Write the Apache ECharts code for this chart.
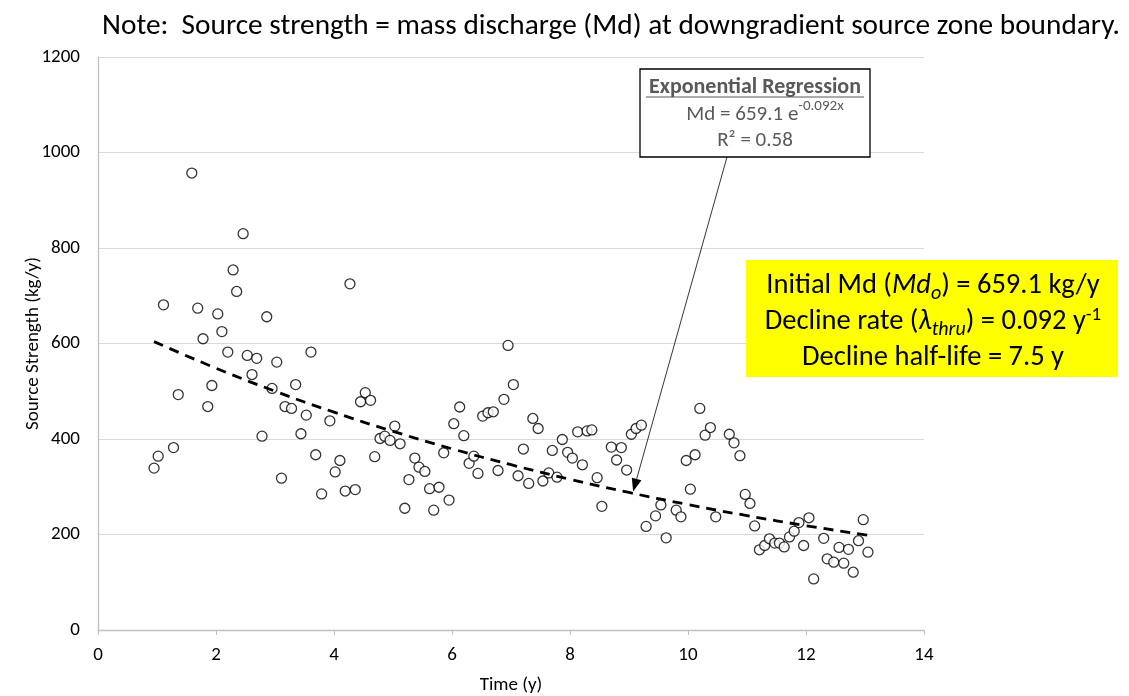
<!DOCTYPE html>
<html>
<head>
<meta charset="utf-8">
<title>Source strength</title>
<script src="https://cdn.jsdelivr.net/npm/echarts@6/dist/echarts.min.js"></script>
<style>
  html, body { margin: 0; padding: 0; background: #fff; }
  #chart { width: 1129px; height: 696px; }
</style>
</head>
<body>
<div id="chart"></div>
<script>
// observed source strength, time (y) and Md (kg/y)
const timeY = [
  0.95, 1.02, 1.11, 1.28, 1.36, 1.59, 1.69, 1.78, 1.86, 1.93,
  2.03, 2.10, 2.20, 2.29, 2.35, 2.46, 2.53, 2.61, 2.69, 2.78,
  2.86, 2.95, 3.03, 3.11, 3.17, 3.28, 3.35, 3.44, 3.53, 3.61,
  3.69, 3.79, 3.93, 4.02, 4.10, 4.19, 4.27, 4.36, 4.45, 4.53,
  4.62, 4.69, 4.78, 4.86, 4.95, 5.03, 5.12, 5.20, 5.27, 5.37,
  5.44, 5.54, 5.62, 5.69, 5.78, 5.86, 5.95, 6.03, 6.13, 6.20,
  6.29, 6.37, 6.44, 6.52, 6.61, 6.70, 6.78, 6.88, 6.95, 7.04,
  7.12, 7.21, 7.30, 7.37, 7.46, 7.54, 7.64, 7.70, 7.78, 7.87,
  7.96, 8.04, 8.13, 8.21, 8.29, 8.37, 8.46, 8.54, 8.70, 8.79,
  8.87, 8.96, 9.04, 9.12, 9.21, 9.29, 9.45, 9.54, 9.63, 9.80,
  9.88, 9.97, 10.04, 10.12, 10.20, 10.29, 10.38, 10.47, 10.70, 10.78,
  10.88, 10.97, 11.05, 11.13, 11.21, 11.30, 11.38, 11.47, 11.55, 11.63,
  11.72, 11.80, 11.88, 11.96, 12.05, 12.13, 12.30, 12.36, 12.47, 12.56,
  12.64, 12.72, 12.80, 12.89, 12.97, 13.05
];
const massDischarge = [
  339, 364, 681, 382, 493, 957, 674, 610, 468, 512,
  662, 625, 582, 754, 709, 830, 575, 535, 569, 406,
  656, 506, 561, 318, 468, 464, 514, 411, 450, 582,
  367, 285, 438, 331, 355, 291, 725, 294, 478, 497,
  481, 363, 401, 406, 397, 427, 390, 255, 315, 360,
  341, 332, 296, 251, 299, 371, 272, 432, 467, 407,
  349, 364, 328, 448, 455, 457, 334, 483, 596, 514,
  323, 379, 307, 443, 422, 312, 329, 376, 320, 399,
  372, 360, 415, 346, 417, 419, 319, 259, 383, 356,
  382, 335, 410, 422, 429, 217, 239, 262, 193, 251,
  237, 355, 295, 367, 464, 408, 424, 237, 410, 392,
  365, 284, 265, 218, 168, 177, 191, 182, 182, 174,
  195, 207, 225, 177, 235, 107, 192, 149, 142, 173,
  140, 169, 121, 187, 231, 163
];

// exponential regression shown on the chart: Md = 659.1 e^(-0.092 x)
const fitMd0 = 659.1;
const fitRate = 0.092;
const fitX = [0.95, 2, 3, 4, 5, 6, 7, 8, 9, 10, 11, 12, 13.05];

const xTicks = [0, 2, 4, 6, 8, 10, 12, 14];
const yTicks = [0, 200, 400, 600, 800, 1000, 1200];

const points = timeY.map((t, i) => [t, massDischarge[i]]);
const fitLine = fitX.map(x => [x, fitMd0 * Math.exp(-fitRate * x)]);

const FONT = 'Carlito, "Noto Sans", "Open Sans", sans-serif';
const GREY = '#595959';

const chart = echarts.init(document.getElementById('chart'));

chart.setOption({
  backgroundColor: '#fff',
  animation: false,
  grid: { left: 98, right: 205, top: 57, bottom: 66, containLabel: false, outerBoundsMode: 'none' },
  xAxis: {
    type: 'value',
    min: xTicks[0],
    max: xTicks[xTicks.length - 1],
    interval: 2,
    name: 'Time (y)',
    nameLocation: 'middle',
    nameGap: 46,
    nameMoveOverlap: false,
    nameTextStyle: { color: '#000', fontSize: 19, fontFamily: FONT },
    axisLine: { lineStyle: { color: '#bfbfbf', width: 1.3 } },
    axisTick: { show: true, length: 5, lineStyle: { color: '#bfbfbf' } },
    axisLabel: { color: '#000', fontSize: 19, fontFamily: FONT, margin: 16 },
    splitLine: { show: false }
  },
  yAxis: {
    type: 'value',
    min: yTicks[0],
    max: yTicks[yTicks.length - 1],
    interval: 200,
    name: 'Source Strength (kg/y)',
    nameLocation: 'middle',
    nameGap: 55,
    nameMoveOverlap: false,
    nameTextStyle: { color: '#000', fontSize: 19, fontFamily: FONT },
    axisLine: { show: true, lineStyle: { color: '#bfbfbf', width: 1.3 } },
    axisTick: { show: false },
    axisLabel: { color: '#000', fontSize: 19, fontFamily: FONT, margin: 18, formatter: v => String(v) },
    splitLine: { show: true, lineStyle: { color: '#d9d9d9', width: 1.2 } }
  },
  title: {
    text: 'Note:  Source strength = mass discharge (Md) at downgradient source zone boundary.',
    left: 606,
    textAlign: 'center',
    top: 7,
    textStyle: { color: '#000', fontSize: 29.3, fontWeight: 'normal', fontFamily: FONT }
  },
  series: [
    {
      name: 'Md',
      type: 'scatter',
      data: points,
      symbol: 'circle',
      symbolSize: 10,
      itemStyle: { color: '#fff', borderColor: '#000', borderWidth: 1.3 },
      z: 3
    },
    {
      name: 'Expon. fit',
      type: 'line',
      data: fitLine,
      smooth: true,
      showSymbol: false,
      lineStyle: { color: '#000', width: 2.8, type: [10, 7] },
      z: 4
    }
  ]
});

// annotation boxes and the arrow pointing at the fitted curve
const tip = chart.convertToPixel({ gridIndex: 0 }, [9.07, 290]);
const start = [727, 157];
const ang = Math.atan2(tip[1] - start[1], tip[0] - start[0]);
const headLen = 13, headW = 5;
const base = [tip[0] - headLen * Math.cos(ang), tip[1] - headLen * Math.sin(ang)];
const head = [
  tip,
  [base[0] + headW * Math.sin(ang), base[1] - headW * Math.cos(ang)],
  [base[0] - headW * Math.sin(ang), base[1] + headW * Math.cos(ang)]
];

chart.setOption({
  graphic: [
    {
      type: 'line',
      shape: { x1: start[0], y1: start[1], x2: base[0], y2: base[1] },
      style: { stroke: '#000', lineWidth: 0.8 },
      z: 10
    },
    {
      type: 'polygon',
      shape: { points: head },
      style: { fill: '#000' },
      z: 10
    },
    {
      type: 'rect',
      shape: { x: 640, y: 69, width: 230, height: 88 },
      style: { fill: '#fff', stroke: '#000', lineWidth: 1.3 },
      z: 11
    },
    {
      type: 'text',
      x: 755, y: 87,
      style: {
        text: 'Exponential Regression',
        align: 'center',
        verticalAlign: 'middle',
        fontSize: 22, fontWeight: 'bold', fill: GREY, fontFamily: FONT
      },
      z: 12
    },
    {
      type: 'line',
      shape: { x1: 646, y1: 97, x2: 864, y2: 97 },
      style: { stroke: GREY, lineWidth: 1.2 },
      z: 12
    },
    {
      type: 'text',
      x: 765, y: 112,
      style: {
        text: '{n|Md = 659.1 e}{s|-0.092x}',
        align: 'center',
        verticalAlign: 'middle',
        rich: {
          n: { fontSize: 21, fill: GREY, fontFamily: FONT, lineHeight: 26, verticalAlign: 'bottom' },
          s: { fontSize: 15, fill: GREY, fontFamily: FONT, lineHeight: 26, verticalAlign: 'top' }
        }
      },
      z: 12
    },
    {
      type: 'text',
      x: 755, y: 141,
      style: {
        text: 'R² = 0.58',
        align: 'center',
        verticalAlign: 'middle',
        fontSize: 21, fill: GREY, fontFamily: FONT
      },
      z: 12
    },
    {
      type: 'rect',
      shape: { x: 746, y: 260, width: 372, height: 117 },
      style: { fill: '#ffff00' },
      z: 11
    },
    {
      type: 'text',
      x: 933, y: 268,
      style: {
        text: [
          '{n|Initial Md (}{i|Md}{sb|o}{n|) = 659.1 kg/y}',
          '{n|Decline rate (}{i|λ}{sb|thru}{n|) = 0.092 y}{sp|-1}',
          '{n|Decline half-life = 7.5 y}'
        ].join('\n'),
        align: 'center',
        rich: {
          n: { fontSize: 28.5, fill: '#000', fontFamily: FONT, lineHeight: 36, verticalAlign: 'middle' },
          i: { fontSize: 28.5, fill: '#000', fontFamily: FONT, fontStyle: 'italic', lineHeight: 36, verticalAlign: 'middle' },
          sb: { fontSize: 20, fill: '#000', fontFamily: FONT, fontStyle: 'italic', lineHeight: 36, verticalAlign: 'bottom' },
          sp: { fontSize: 19, fill: '#000', fontFamily: FONT, lineHeight: 36, verticalAlign: 'top', padding: [2, 0, 0, 0] }
        }
      },
      z: 12
    }
  ]
});
</script>
</body>
</html>
